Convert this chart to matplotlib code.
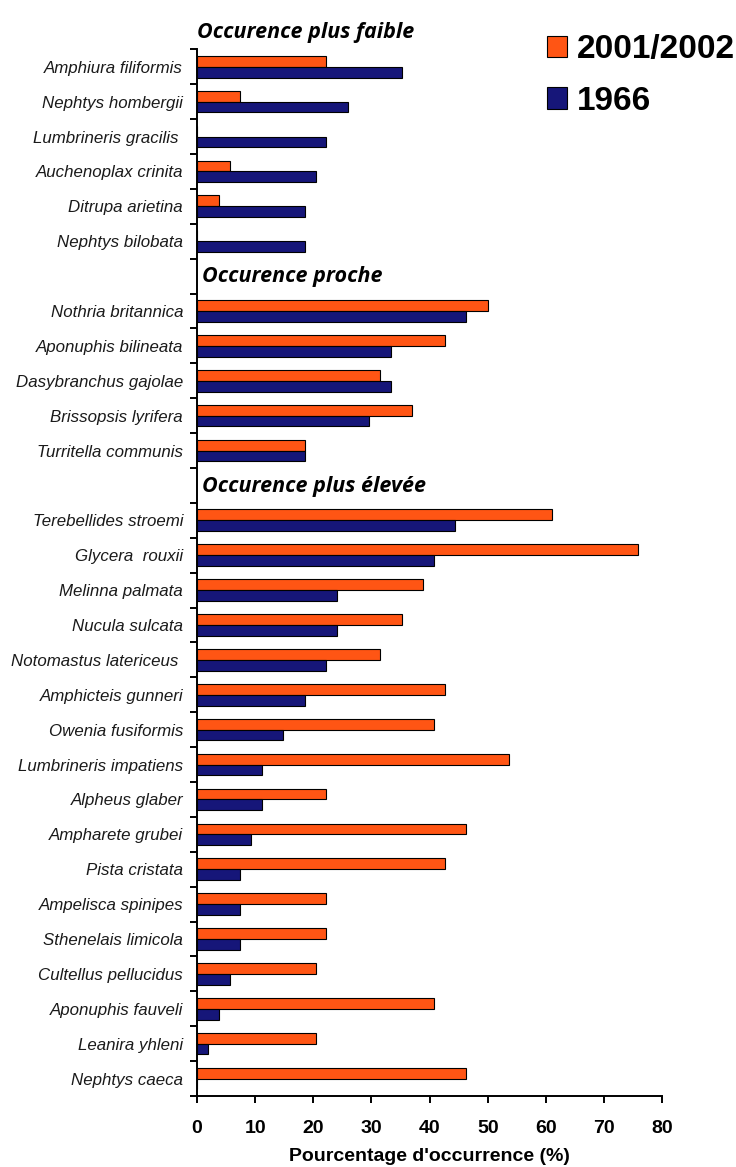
import matplotlib
matplotlib.use("Agg")
import matplotlib.pyplot as plt
from matplotlib.patches import Patch
from matplotlib.ticker import FixedLocator

# ---------------- data ----------------
group_titles = ["Occurence plus faible", "Occurence proche", "Occurence plus élevée"]

species_faible = ["Amphiura filiformis", "Nephtys hombergii", "Lumbrineris gracilis ",
                  "Auchenoplax crinita", "Ditrupa arietina", "Nephtys bilobata"]
v2001_faible = [22.2, 7.4, 0.0, 5.6, 3.7, 0.0]
v1966_faible = [35.2, 25.9, 22.2, 20.4, 18.5, 18.5]

species_proche = ["Nothria britannica", "Aponuphis bilineata", "Dasybranchus gajolae",
                  "Brissopsis lyrifera", "Turritella communis"]
v2001_proche = [50.0, 42.6, 31.5, 37.0, 18.5]
v1966_proche = [46.3, 33.3, 33.3, 29.6, 18.5]

species_elevee = ["Terebellides stroemi", "Glycera  rouxii", "Melinna palmata", "Nucula sulcata",
                  "Notomastus latericeus ", "Amphicteis gunneri", "Owenia fusiformis",
                  "Lumbrineris impatiens", "Alpheus glaber", "Ampharete grubei", "Pista cristata",
                  "Ampelisca spinipes", "Sthenelais limicola", "Cultellus pellucidus",
                  "Aponuphis fauveli", "Leanira yhleni", "Nephtys caeca"]
v2001_elevee = [61.1, 75.9, 38.9, 35.2, 31.5, 42.6, 40.7, 53.7, 22.2, 46.3, 42.6,
                22.2, 22.2, 20.4, 40.7, 20.4, 46.3]
v1966_elevee = [44.4, 40.7, 24.1, 24.1, 22.2, 18.5, 14.8, 11.1, 11.1, 9.3, 7.4,
                7.4, 7.4, 5.6, 3.7, 1.9, 0.0]

series_labels = ["2001/2002", "1966"]
xticks = [0, 10, 20, 30, 40, 50, 60, 70, 80]
xlabel = "Pourcentage d'occurrence (%)"

c2001 = "#FF5514"
c1966 = "#161679"

groups = [(species_faible, v2001_faible, v1966_faible),
          (species_proche, v2001_proche, v1966_proche),
          (species_elevee, v2001_elevee, v1966_elevee)]

# build slot positions: header slot before each group (first one sits above the axes)
labels, ys, a2001, a1966, header_pos = [], [], [], [], []
pos = -1
for sp, va, vb in groups:
    header_pos.append(pos)
    pos += 1
    for s, x1, x2 in zip(sp, va, vb):
        labels.append(s); ys.append(pos); a2001.append(x1); a1966.append(x2)
        pos += 1
n_slots = pos  # 30

fig = plt.figure(figsize=(7.36, 11.67), dpi=100)
ax = fig.add_axes([197/736, 1 - 1096/1167, (662.3 - 197)/736, (1096 - 49.3)/1167])

h = 0.31
ax.barh([y - 0.155 for y in ys], a2001, height=h, color=c2001, edgecolor="black", linewidth=0.8, zorder=3)
ax.barh([y + 0.155 for y in ys], a1966, height=h, color=c1966, edgecolor="black", linewidth=0.8, zorder=3)

ax.set_ylim(n_slots - 0.5, -0.5)
ax.set_xlim(0, 80)

ax.set_yticks(ys)
ax.set_yticklabels(labels, fontstyle="italic", family="Liberation Sans", fontsize=12.2, color="#1a1a1a")
ax.tick_params(axis="y", which="major", length=0, pad=10)
ax.yaxis.set_minor_locator(FixedLocator([k - 0.5 for k in range(n_slots + 1)]))
ax.tick_params(axis="y", which="minor", length=5, width=1.4, direction="out")

ax.set_xticks(xticks)
ax.set_xticklabels([str(t) for t in xticks], fontweight="bold", family="Liberation Sans", fontsize=14)
ax.tick_params(axis="x", length=5, width=1.4, direction="out", pad=12)
ax.set_xlabel(xlabel, fontweight="bold", family="Liberation Sans", fontsize=14, labelpad=8)

for s in ["top", "right"]:
    ax.spines[s].set_visible(False)
for s in ["left", "bottom"]:
    ax.spines[s].set_linewidth(1.4)

for i, (t, hp) in enumerate(zip(group_titles, header_pos)):
    ax.text(0.0 if i == 0 else 0.9, hp + 0.02, t, fontsize=15.5, fontweight="bold", fontstyle="italic",
            family="Open Sans", va="center", ha="left", clip_on=False)

handles = [Patch(facecolor=c2001, edgecolor="black", linewidth=0.8),
           Patch(facecolor=c1966, edgecolor="black", linewidth=0.8)]
fig.legend(handles, series_labels, loc="upper left", bbox_to_anchor=(547/736, 1 - 34/1167),
           frameon=False, borderpad=0, borderaxespad=0, handlelength=0.6, handleheight=0.6,
           handletextpad=0.3, labelspacing=0.62,
           prop={"family": "Liberation Sans", "weight": "bold", "size": 24})

fig.savefig("out.png", dpi=100, facecolor="white")
